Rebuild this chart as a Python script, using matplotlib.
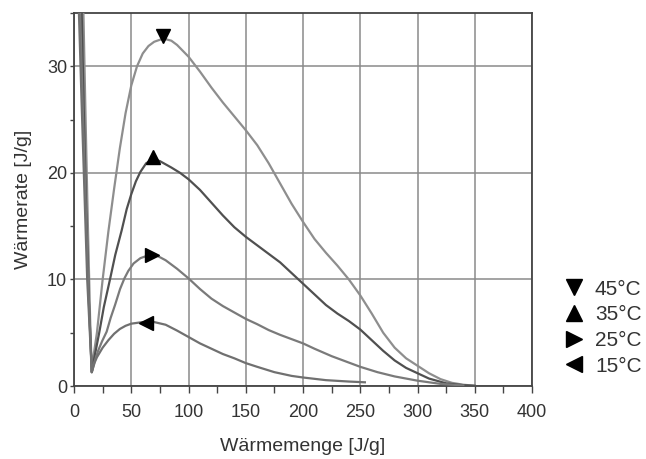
import matplotlib
matplotlib.use("Agg")
import matplotlib.pyplot as plt
from matplotlib.lines import Line2D
from matplotlib.ticker import MultipleLocator

plt.rcParams['font.family'] = ['Liberation Sans', 'DejaVu Sans']

labels = ["45°C", "35°C", "25°C", "15°C"]
markers = ["v", "^", ">", "<"]
colors = ["#8e8e8e", "#505050", "#7a7a7a", "#707070"]

x45 = [8.0, 10, 12, 14, 15.5, 17, 20, 25, 30, 35, 40, 45, 50, 55, 60, 65, 70, 78, 85, 90, 100, 110,
       120, 130, 140, 150, 160, 170, 180, 190, 200, 210, 220, 230, 240, 250, 260, 270, 280, 290, 300,
       310, 320, 330, 340, 350]
y45 = [36, 25.5, 15.5, 6.5, 1.3, 2.8, 5, 10, 14.5, 18.5, 22.3, 25.6, 28.2, 30, 31.2, 31.9, 32.3, 32.6, 32.4, 32, 30.9, 29.5,
       28.0, 26.6, 25.3, 24.0, 22.6, 20.9, 19.0, 17.1, 15.4, 13.8, 12.5, 11.3, 10.0, 8.5, 6.8, 5.0, 3.6, 2.6, 1.9,
       1.2, 0.65, 0.3, 0.12, 0.03]

x35 = [6.5, 8.5, 10.5, 13, 15.5, 18, 22, 26, 31.4, 36, 41.6, 46, 50, 54, 58, 63, 69, 75, 85, 92.6, 100, 110,
       120, 130, 140, 150, 160, 170, 180, 190, 200, 210, 220, 230, 240, 250, 260, 270, 280, 290, 300,
       310, 325, 340, 350]
y35 = [36, 26, 17, 8, 1.3, 2.8, 5, 7.4, 10, 12.3, 14.6, 16.6, 18.0, 19.2, 20.1, 20.9, 21.3, 21.1, 20.5, 20.0, 19.4, 18.4,
       17.2, 16.0, 14.9, 14.0, 13.2, 12.4, 11.6, 10.6, 9.6, 8.6, 7.6, 6.8, 6.1, 5.3, 4.3, 3.3, 2.4, 1.7, 1.2,
       0.7, 0.25, 0.08, 0.02]

x25 = [5, 7.5, 10, 12.5, 15.5, 18, 21, 24.5, 28.5, 32, 35.8, 40.2, 44, 47.4, 52, 58, 66, 73, 80, 90, 100, 110,
       120, 130, 140, 150, 160, 170, 180, 190, 200, 210, 225, 240, 250, 265, 280, 300, 320, 340]
y25 = [36, 26.5, 17.5, 9, 1.3, 2.3, 3.3, 4.2, 5.1, 6.4, 7.6, 9.1, 10.1, 10.8, 11.5, 12.0, 12.3, 12.2, 11.8, 11.0, 10.1, 9.1,
       8.2, 7.5, 6.9, 6.3, 5.8, 5.25, 4.8, 4.4, 4.0, 3.5, 2.8, 2.2, 1.8, 1.3, 0.9, 0.5, 0.2, 0.05]

x15 = [4, 6.5, 9, 11.5, 15.5, 18, 20, 25, 30, 35, 40, 45, 50, 60, 70, 80, 90, 100, 110, 120, 130, 140, 150,
       160, 175, 190, 200, 220, 240, 254]
y15 = [36, 27, 18.5, 10, 1.3, 2.2, 2.7, 3.6, 4.3, 4.9, 5.35, 5.65, 5.85, 6.0, 6.0, 5.75, 5.2, 4.6, 4.0, 3.5, 3.0, 2.6, 2.15,
       1.8, 1.3, 0.95, 0.8, 0.55, 0.42, 0.35]

peak_x = [78, 69, 68, 63]
peak_y = [32.8, 21.5, 12.3, 5.9]

xs = [x45, x35, x25, x15]
ys = [y45, y35, y25, y15]

fig = plt.figure(figsize=(6.46, 4.59), dpi=100)
ax = fig.add_axes([0.1146, 0.159, 0.709, 0.8127])

for x, y, c in zip(xs, ys, colors):
    ax.plot(x, y, color=c, lw=1.6, solid_joinstyle='round', zorder=3)
for px, py, m in zip(peak_x, peak_y, markers):
    ax.plot([px], [py], marker=m, color='black', markersize=10.5, linestyle='none', zorder=4)

ax.set_xlim(0, 400)
ax.set_ylim(0, 35)
ax.xaxis.set_major_locator(MultipleLocator(50))
ax.xaxis.set_minor_locator(MultipleLocator(25))
ax.yaxis.set_major_locator(MultipleLocator(10))
ax.yaxis.set_minor_locator(MultipleLocator(5))
ax.grid(True, which='major', color='#8a8a8a', lw=1.1)
ax.set_axisbelow(True)
for s in ax.spines.values():
    s.set_color('#444444')
    s.set_linewidth(1.3)
ax.tick_params(which='both', direction='out', width=1.0, color='#444444',
               labelsize=13, labelcolor='#333333')
ax.tick_params(axis='x', which='both', length=5, pad=8)
ax.tick_params(axis='y', which='both', length=3, pad=2)
ax.set_xlabel("Wärmemenge [J/g]", fontsize=14, color='#333333', labelpad=12)
ax.set_ylabel("Wärmerate [J/g]", fontsize=14, color='#333333', labelpad=11)

handles = [Line2D([], [], marker=m, color='black', linestyle='none', markersize=11) for m in markers]
fig.legend(handles, labels, loc='center left', bbox_to_anchor=(0.871, 0.286), frameon=False,
           fontsize=15, handletextpad=0.55, labelspacing=0.32, handlelength=0.9,
           labelcolor='#333333', borderpad=0.1, borderaxespad=0.0)

fig.savefig("out.png", dpi=100)
